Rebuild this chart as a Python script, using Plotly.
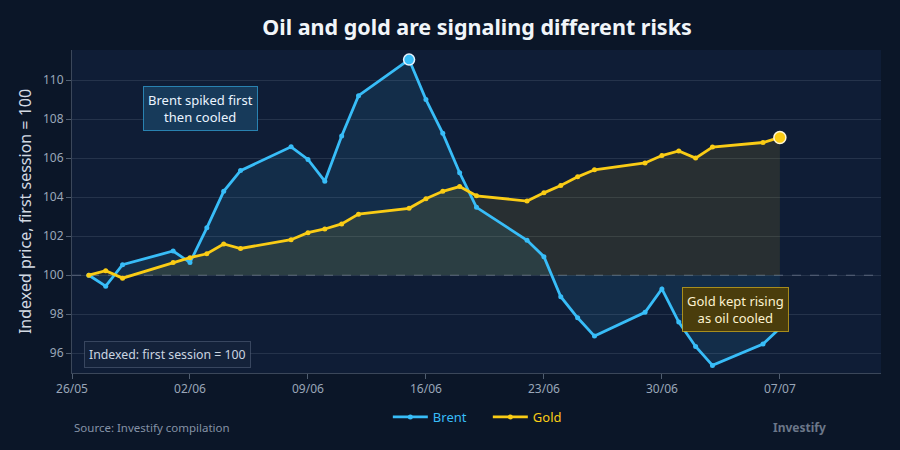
import plotly.graph_objects as go

dates = ["2026-05-27", "2026-05-28", "2026-05-29", "2026-06-01", "2026-06-02", "2026-06-03",
         "2026-06-04", "2026-06-05", "2026-06-08", "2026-06-09", "2026-06-10", "2026-06-11",
         "2026-06-12", "2026-06-15", "2026-06-16", "2026-06-17", "2026-06-18", "2026-06-19",
         "2026-06-22", "2026-06-23", "2026-06-24", "2026-06-25", "2026-06-26", "2026-06-29",
         "2026-06-30", "2026-07-01", "2026-07-02", "2026-07-03", "2026-07-06", "2026-07-07"]

brent = [100.0, 99.44, 100.54, 101.24, 100.65, 102.43, 104.3, 105.36, 106.58, 105.93,
         104.82, 107.13, 109.2, 111.05, 109.0, 107.27, 105.25, 103.48, 101.79, 100.95,
         98.9, 97.82, 96.88, 98.1, 99.3, 97.6, 96.35, 95.38, 96.47, 97.28]

gold = [100.0, 100.23, 99.85, 100.65, 100.9, 101.1, 101.6, 101.37, 101.82, 102.18,
        102.37, 102.63, 103.13, 103.43, 103.92, 104.3, 104.54, 104.07, 103.8, 104.22,
        104.6, 105.04, 105.4, 105.75, 106.13, 106.37, 106.0, 106.57, 106.8, 107.06]

base = 100
BLUE = "#38bdf8"
GOLD = "#facc15"
FONT = "Noto Sans"

fig = go.Figure()

# fills to the base line
for vals, fc in [(brent, "rgba(56,189,248,0.10)"), (gold, "rgba(250,204,21,0.11)")]:
    fig.add_trace(go.Scatter(
        x=dates + dates[::-1], y=vals + [base] * len(vals),
        fill="toself", fillcolor=fc, line=dict(width=0), mode="lines",
        hoverinfo="skip", showlegend=False))

fig.add_trace(go.Scatter(
    x=dates, y=brent, mode="lines+markers", name="<span style='color:%s'>Brent</span>" % BLUE,
    line=dict(color=BLUE, width=2.8), marker=dict(size=5, color=BLUE)))
fig.add_trace(go.Scatter(
    x=dates, y=gold, mode="lines+markers", name="<span style='color:%s'>Gold</span>" % GOLD,
    line=dict(color=GOLD, width=2.8), marker=dict(size=5, color=GOLD)))

# highlight markers
imax = brent.index(max(brent))
fig.add_trace(go.Scatter(
    x=[dates[imax]], y=[brent[imax]], mode="markers", showlegend=False, hoverinfo="skip",
    marker=dict(size=11, color=BLUE, line=dict(color="#e8f4ff", width=1.5))))
fig.add_trace(go.Scatter(
    x=[dates[-1]], y=[gold[-1]], mode="markers", showlegend=False, hoverinfo="skip",
    marker=dict(size=12, color=GOLD, line=dict(color="#fff6d5", width=1.5))))

fig.add_shape(type="line", xref="paper", x0=0, x1=1, yref="y", y0=base, y1=base,
              line=dict(color="rgba(203,213,225,0.35)", width=1, dash="dash"), layer="below")

fig.update_layout(
    width=900, height=450,
    margin=dict(l=72, r=19, t=50, b=77),
    paper_bgcolor="#0b1628", plot_bgcolor="#0f1d36",
    font=dict(family=FONT, color="#9aa6b8", size=12),
    title=dict(text="<b>Oil and gold are signaling different risks</b>", x=0.53, xanchor="center",
               y=0.94, yanchor="middle", font=dict(size=21.5, color="#f1f5f9", family=FONT)),
    legend=dict(orientation="h", x=0.514, xanchor="center", y=-0.136, yanchor="middle",
                font=dict(size=13), bgcolor="rgba(0,0,0,0)", entrywidth=50, itemwidth=35),
    showlegend=True,
)

fig.update_xaxes(
    type="date", range=["2026-05-26", "2026-07-13"], tick0="2026-05-26", dtick=7 * 86400000,
    tickformat="%d/%m", showgrid=False, showline=True, linecolor="rgba(148,163,184,0.35)",
    ticks="outside", ticklen=5, tickcolor="rgba(148,163,184,0.5)", zeroline=False,
    tickfont=dict(size=12, color="#9aa6b8"))
fig.update_yaxes(
    range=[94.99, 111.54], dtick=2, tick0=96, showgrid=True, gridcolor="rgba(148,163,184,0.17)",
    showline=True, linecolor="rgba(148,163,184,0.35)", ticks="outside", ticklen=5,
    tickcolor="rgba(148,163,184,0.5)", zeroline=False, tickfont=dict(size=12, color="#9aa6b8"),
    title=dict(text="Indexed price, first session = 100", font=dict(size=16, color="#d3dae4"),
               standoff=7))

fig.add_annotation(xref="paper", yref="paper", x=0.159, y=0.818, xanchor="center", yanchor="middle",
                   text="Brent spiked first<br>then cooled", showarrow=False,
                   font=dict(size=13, color="#eaf4ff"), bgcolor="#173a5a",
                   bordercolor="rgba(56,189,248,0.6)", borderwidth=1, borderpad=4)
fig.add_annotation(xref="paper", yref="paper", x=0.82, y=0.198, xanchor="center", yanchor="middle",
                   text="Gold kept rising<br>as oil cooled", showarrow=False,
                   font=dict(size=13, color="#fdf3d0"), bgcolor="#4a3d0c",
                   bordercolor="rgba(250,204,21,0.6)", borderwidth=1, borderpad=4)
fig.add_annotation(xref="paper", yref="paper", x=0.1186, y=0.057, xanchor="center", yanchor="middle",
                   text="Indexed: first session = 100", showarrow=False,
                   font=dict(size=12.3, color="#cbd5e1"), bgcolor="#14223a",
                   bordercolor="rgba(148,163,184,0.3)", borderwidth=1, borderpad=4)

fig.add_annotation(xref="paper", yref="paper", x=0, y=-0.169, xanchor="left", yanchor="middle",
                   text="Source: Investify compilation", showarrow=False,
                   font=dict(size=11.5, color="#8592a6"))
fig.add_annotation(xref="paper", yref="paper", x=0.934, y=-0.169, xanchor="right", yanchor="middle",
                   text="<b>Investify</b>", showarrow=False,
                   font=dict(size=12, color="#6b7789"))

fig.write_html("out.html")
